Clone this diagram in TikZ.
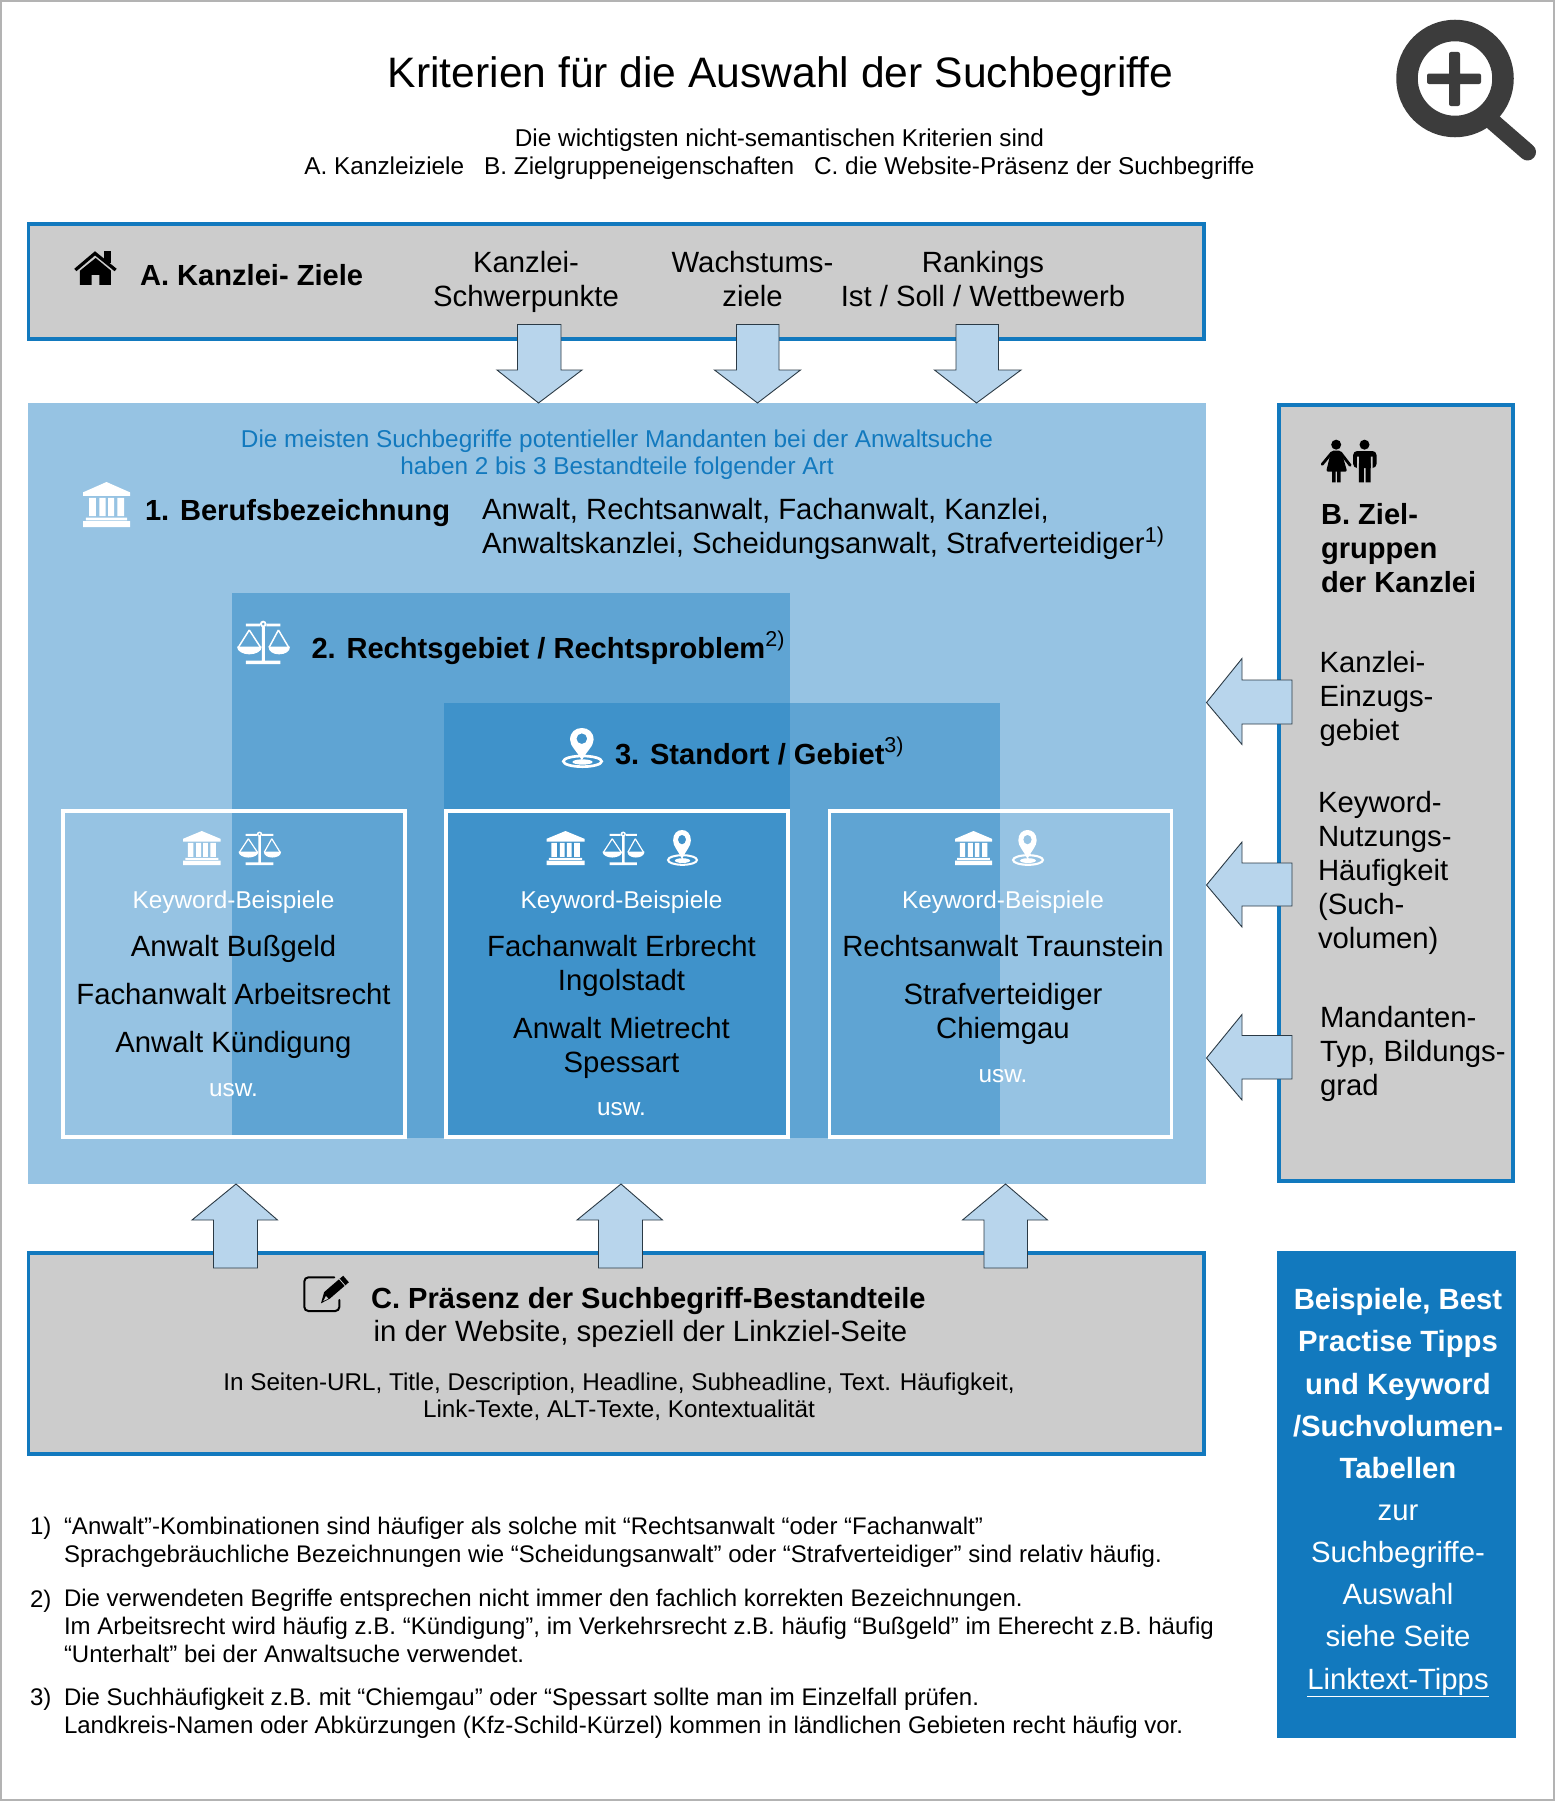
\documentclass[tikz,border=0pt]{standalone}
\usepackage{fontspec}
\setmainfont[Ligatures=NoCommon]{Liberation Sans}
\definecolor{kblue}{HTML}{1279BE}
\definecolor{kmain}{HTML}{96C3E3}
\definecolor{kgray}{HTML}{CCCCCC}
\definecolor{karrow}{HTML}{B8D5EC}
\definecolor{kedge}{HTML}{2B3A45}
\definecolor{kdark}{HTML}{3C3C3C}
\definecolor{kframe}{HTML}{B3B3B3}
\newcommand\supr[1]{\raisebox{0.38em}{\normalfont\fontsize{21.5}{21.5}\selectfont #1}}
% icons: x, y (top left), width, height, colour
\newcommand\iconbank[5]{\begin{scope}[shift={(#1,#2)},x=#3pt/100,y=-#4pt/100]
 \fill[#5] (50,0)--(100,23)--(100,31)--(0,31)--(0,23)--cycle
  (13,35) rectangle (27.5,76) (35,35) rectangle (48,76) (53.5,35) rectangle (66,76) (73,35) rectangle (87.5,76)
  (6,79) rectangle (94,85) (0,87) rectangle (100,100);
\end{scope}}
\newcommand\iconscales[5]{\begin{scope}[shift={(#1,#2)},x=#3pt/160,y=-#4pt/132]
 \pgfmathsetmacro\lw{#3/160*4.5}
 \fill[#5,even odd rule] (79,12) circle (10) (79,12) circle (5);
 \fill[#5] (27,11) rectangle (69,19) (89,11) rectangle (131,19) (75,20) rectangle (84,125) (27,122) rectangle (131,132);
 \draw[#5,line width=\lw pt,line join=round] (37,30)--(4,82) (37,30)--(71,82) (125,30)--(97,82) (125,30)--(156,82);
 \fill[#5] (0,80)--(75,80) .. controls (75,95) and (55,103) .. (37,103) .. controls (20,103) and (0,95) .. (0,80)--cycle;
 \fill[#5] (95,80)--(160,80) .. controls (160,95) and (145,103) .. (127,103) .. controls (110,103) and (95,95) .. (95,80)--cycle;
\end{scope}}
\newcommand\iconpin[5]{\begin{scope}[shift={(#1,#2)},x=#3pt/122,y=-#4pt/120]
 \pgfmathsetmacro\lw{#3/122*8}
 \draw[#5,line width=\lw pt] (61,100) ellipse (57 and 16);
 \fill[#5] (61,102) ellipse (30 and 8);
 \fill[#5,even odd rule] (59,97) .. controls (44,68) and (24,55) .. (24,35) .. controls (24,12) and (40,0) .. (59,0)
   .. controls (78,0) and (94,12) .. (94,35) .. controls (94,55) and (74,68) .. (59,97) -- cycle
   (59,32) circle (16);
\end{scope}}
\tikzset{
 txt/.style={inner sep=0pt,outer sep=0pt,align=center,anchor=base},
 ltxt/.style={inner sep=0pt,outer sep=0pt,align=left,anchor=base west},
 big/.style={font=\fontsize{29.3}{34}\selectfont},
 bigb/.style={font=\fontsize{29.1}{34}\selectfont\bfseries},
 mid/.style={font=\fontsize{24.35}{28}\selectfont},
 note/.style={font=\fontsize{24}{28}\selectfont},
 side/.style={font=\fontsize{29.3}{42.2}\selectfont},
 sideb/.style={font=\fontsize{29.3}{42.2}\selectfont\bfseries},
 gbox/.style={draw=kblue,line width=3.5pt,fill=kgray,inner sep=0pt,outer sep=0pt,rectangle},
 kwbox/.style={draw=white,line width=3.5pt,inner sep=0pt,outer sep=0pt,rectangle},
 layer/.style={fill=kblue,fill opacity=.41,inner sep=0pt,outer sep=0pt,rectangle},
 block/.style={draw=kedge,line width=.9pt,fill=karrow,line join=miter},
}
\begin{document}
\begin{tikzpicture}[x=1pt,y=-1pt]
\useasboundingbox (0,0) rectangle (1555,1801);
\draw[kframe,line width=2.5pt,fill=white] (1.2,1.2) rectangle (1553.8,1799.8);
% panels
\node[inner sep=0pt,outer sep=0pt,fill=kmain,minimum width=1177.5pt,minimum height=781pt] (mainpanel) at (616.8,793.5) {};
\node[layer,minimum width=558pt,minimum height=545pt] (layertwo) at (511,865.5) {};
\node[layer,minimum width=556pt,minimum height=435pt] (layerthree) at (722.3,920.5) {};
\node[kwbox,minimum width=342pt,minimum height=326pt] (kwone) at (234,974) {};
\node[kwbox,minimum width=342pt,minimum height=326pt] (kwtwo) at (617,974) {};
\node[kwbox,minimum width=342pt,minimum height=326pt] (kwthree) at (1000.5,974) {};
\node[gbox,minimum width=1175.5pt,minimum height=115pt] (boxa) at (616.3,281.5) {};
\node[gbox,minimum width=234pt,minimum height=776pt] (boxb) at (1396,793) {};
\node[gbox,minimum width=1175.5pt,minimum height=201pt] (boxc) at (616.3,1353.5) {};
\node[fill=kblue,inner sep=0pt,outer sep=0pt,minimum width=239pt,minimum height=487pt] (boxd) at (1396,1494.5) {};
% block arrows
\foreach \a/\b/\c/\d/\e in {497/517.5/538.5/561/582, 714.5/736.5/757.5/779/800.5, 934.5/956/976.5/998.5/1021}
 \draw[block] (\b,324.5)--(\d,324.5)--(\d,370)--(\e,370)--(\c,403)--(\a,370)--(\b,370)--cycle;
\foreach \a/\b/\c/\d/\e in {658.5/680/702.5/724/744.5, 842/863/885/906/927, 1014.5/1035.5/1058/1079/1100}
 \draw[block] (1292,\b)--(1292,\d)--(1242,\d)--(1242,\e)--(1206.5,\c)--(1242,\a)--(1242,\b)--cycle;
\foreach \a/\b/\c/\d/\e in {192/213.5/236/257.5/277.5, 577/598.5/621/642.5/662.5, 962.5/984/1005.5/1027.5/1047.5}
 \draw[block] (\b,1268)--(\d,1268)--(\d,1220)--(\e,1220)--(\c,1184)--(\a,1220)--(\b,1220)--cycle;
% magnifier
\draw[kdark,line width=21.5pt] (1455,78.5) circle (48);
\draw[kdark,line width=17pt,line cap=round] (1493,122)--(1527.5,152);
\fill[kdark,rounded corners=2pt] (1427,73.5) rectangle (1481,84) (1449,52) rectangle (1460,106);
% title
\node[txt,font=\fontsize{42.6}{48}\selectfont] (title) at (780.5,87) {Kriterien für die Auswahl der Suchbegriffe};
\node[txt,mid] (subtitle) at (779.5,174) {Die wichtigsten nicht-semantischen Kriterien sind\\A. Kanzleiziele\hspace{20pt}B. Zielgruppeneigenschaften\hspace{20pt}C. die Website-Präsenz der Suchbegriffe};
% box A
\begin{scope}[shift={(60,240)},x=.3333pt,y=-.3333pt]
 \fill[black] (60,92)--(107,54)--(153,92)--(153,135)--(118,135)--(118,105)--(95,105)--(95,135)--(60,135)--cycle;
 \draw[black,line width=3.2pt] (46,90)--(105,40)--(167,90);
 \fill[black] (132,33) rectangle (152,68);
\end{scope}
\node[ltxt,bigb] (alabel) at (140,285) {A. Kanzlei- Ziele};
\node[txt,big] (aone) at (526,306) {Kanzlei-\\Schwerpunkte};
\node[txt,big] (atwo) at (752.5,306) {Wachstums-\\ziele};
\node[txt,big] (athree) at (983,306) {Rankings\\Ist / Soll / Wettbewerb};
% main panel
\node[txt,text=kblue,font=\fontsize{24.35}{27}\selectfont] (intro) at (617,474) {Die meisten Suchbegriffe potentieller Mandanten bei der Anwaltsuche\\haben 2 bis 3 Bestandteile folgender Art};
\iconbank{83}{482}{47}{45}{white}
\node[ltxt,bigb] (one) at (145,520) {1. Berufsbezeichnung};
\node[ltxt,big] (onetxt) at (482,553.5) {Anwalt, Rechtsanwalt, Fachanwalt, Kanzlei,\\Anwaltskanzlei, Scheidungsanwalt, Strafverteidiger\supr{1)}};
\iconscales{237}{620}{53}{44}{white}
\node[ltxt,bigb] (two) at (311.5,658) {2. Rechtsgebiet / Rechtsproblem\supr{2)}};
\iconpin{562}{728}{41}{40}{white}
\node[ltxt,bigb] (three) at (615,764) {3. Standort / Gebiet\supr{3)}};
% keyword box 1
\iconbank{183}{831}{37.5}{34}{white}
\iconscales{238.5}{831}{42.6}{34}{white}
\node[txt,mid,text=white] (kwonehead) at (233.5,908.5) {Keyword-Beispiele};
\node[txt,big] (kwonea) at (233.5,956) {Anwalt Bußgeld};
\node[txt,big] (kwoneb) at (233.5,1004) {Fachanwalt Arbeitsrecht};
\node[txt,big] (kwonec) at (233.5,1052.5) {Anwalt Kündigung};
\node[txt,mid,text=white] (kwoneend) at (233.5,1096.5) {usw.};
% keyword box 2
\iconbank{546.5}{831}{38}{34}{white}
\iconscales{602.5}{831}{42}{34}{white}
\iconpin{667}{830}{31}{36}{white}
\node[txt,mid,text=white] (kwtwohead) at (621.5,908.5) {Keyword-Beispiele};
\node[txt,big] (kwtwoa) at (621.5,990) {Fachanwalt Erbrecht\\Ingolstadt};
\node[txt,big] (kwtwob) at (621.5,1072) {Anwalt Mietrecht\\Spessart};
\node[txt,mid,text=white] (kwtwoend) at (621.5,1115.5) {usw.};
% keyword box 3
\iconbank{955}{831}{37}{34}{white}
\iconpin{1012}{830}{32}{36}{white}
\node[txt,mid,text=white] (kwthreehead) at (1003,908.5) {Keyword-Beispiele};
\node[txt,big] (kwthreea) at (1003,956.5) {Rechtsanwalt Traunstein};
\node[txt,big] (kwthreeb) at (1003,1038.5) {Strafverteidiger\\Chiemgau};
\node[txt,mid,text=white] (kwthreeend) at (1003,1082.5) {usw.};
% box B
\begin{scope}[shift={(1310.5,430)},x=.3333pt,y=-.3333pt]
 \fill[black] (77,44) circle (15) (162,44) circle (15);
 \fill[black,rounded corners=2pt] (62,62)--(92,62)--(110,125)--(47,125)--cycle;
 \fill[black] (65,120) rectangle (75,157) (80,120) rectangle (90,157);
 \draw[black,line width=2.8pt,line cap=round] (64,68)--(35,103) (90,68)--(119,106);
 \fill[black,rounded corners=4pt] (128,63) rectangle (198,114);
 \fill[kgray] (140,80) rectangle (145,116) (181,80) rectangle (186,116);
 \fill[black] (145,100) rectangle (160,157) (165,100) rectangle (180,157);
\end{scope}
\node[ltxt,bigb] (blabel) at (1321,592) {B. Ziel-\\gruppen\\der Kanzlei};
\node[ltxt,big] (bone) at (1319.5,740.5) {Kanzlei-\\Einzugs-\\gebiet};
\node[ltxt,big] (btwo) at (1318,948.5) {Keyword-\\Nutzungs-\\Häufigkeit\\(Such-\\volumen)};
\node[ltxt,big] (bthree) at (1320,1095) {Mandanten-\\Typ, Bildungs-\\grad};
% box C
\begin{scope}[shift={(290,1260)},x=.3333pt,y=-.3333pt]
 \draw[black,line width=2pt,rounded corners=4pt,line cap=round] (133,52)--(43,52)--(43,153)--(148,153)--(148,120);
 \fill[black] (176.5,66.8)--(159.5,47.2)--(102.5,96.2)--(93,130)--(119.5,115.8)--cycle;
 \draw[kgray,line width=.8pt] (165,76.6)--(148,57);
 \fill[kgray] (108,108)--(115,116)--(100,123)--cycle;
\end{scope}
\node[ltxt,bigb] (clabel) at (371,1308) {C. Präsenz der Suchbegriff-Bestandteile};
\node[txt,big] (cline) at (640.5,1341) {in der Website, speziell der Linkziel-Seite};
\node[txt,font=\fontsize{24.25}{27}\selectfont] (cdetail) at (619,1417) {In Seiten-URL, Title, Description, Headline, Subheadline, Text. Häufigkeit,\\Link-Texte, ALT-Texte, Kontextualität};
% blue box
\node[txt,sideb,text=white] (dbold) at (1398,1478.5) {Beispiele, Best\\Practise Tipps\\und Keyword\\/Suchvolumen-\\Tabellen};
\node[txt,side,text=white] (dplain) at (1398,1689) {zur\\Suchbegriffe-\\Auswahl\\siehe Seite\\\underline{Linktext-Tipps}};
% footnotes
\node[ltxt,note] (numone) at (30,1534) {1)};
\node[ltxt,note] (noteone) at (64,1562) {“Anwalt”-Kombinationen sind häufiger als solche mit “Rechtsanwalt “oder “Fachanwalt”\\Sprachgebräuchliche Bezeichnungen wie “Scheidungsanwalt” oder “Strafverteidiger” sind relativ häufig.};
\node[ltxt,note] (numtwo) at (30,1607) {2)};
\node[ltxt,note] (notetwo) at (64,1662.5) {Die verwendeten Begriffe entsprechen nicht immer den fachlich korrekten Bezeichnungen.\\Im Arbeitsrecht wird häufig z.B. “Kündigung”, im Verkehrsrecht z.B. häufig “Bußgeld” im Eherecht z.B. häufig\\“Unterhalt” bei der Anwaltsuche verwendet.};
\node[ltxt,note] (numthree) at (30,1705) {3)};
\node[ltxt,note] (notethree) at (64,1733) {Die Suchhäufigkeit z.B. mit “Chiemgau” oder “Spessart sollte man im Einzelfall prüfen.\\Landkreis-Namen oder Abkürzungen (Kfz-Schild-Kürzel) kommen in ländlichen Gebieten recht häufig vor.};
\end{tikzpicture}
\end{document}
